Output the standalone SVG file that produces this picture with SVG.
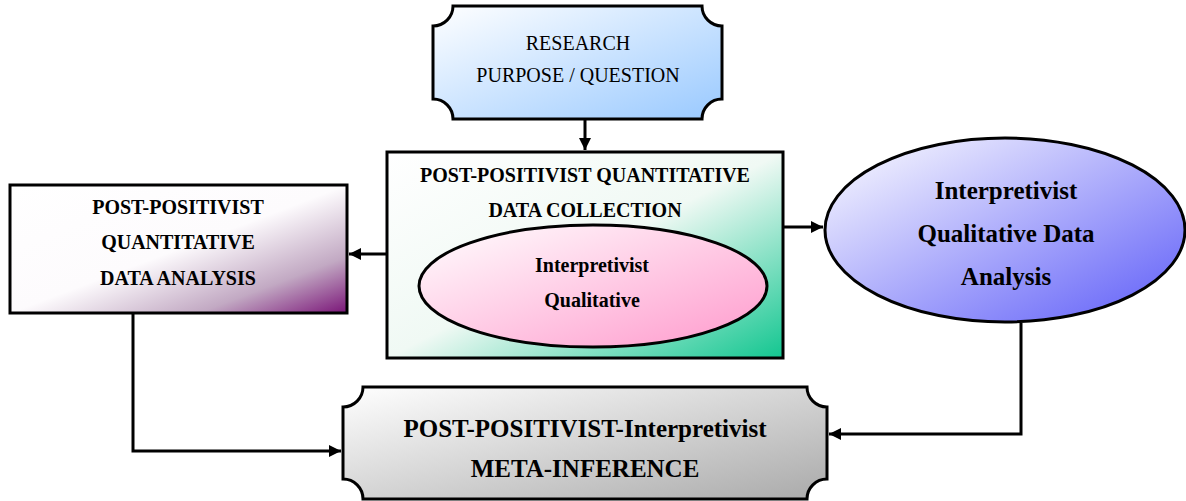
<svg xmlns="http://www.w3.org/2000/svg" width="1186" height="501" viewBox="0 0 1186 501">
<style>
.sh{stroke:#000;stroke-width:3}
.t{font-family:"Liberation Serif","Times New Roman",serif;fill:#000;text-anchor:middle}
.b{font-weight:bold}
.c{fill:none;stroke:#000;stroke-width:3}
</style>
<defs>
<linearGradient id="gBlue" x1="0" y1="0" x2="1" y2="1"><stop offset="0" stop-color="#ffffff"/><stop offset="1" stop-color="#99c9ff"/></linearGradient>
<linearGradient id="gPurple" x1="0" y1="0" x2="1" y2="1"><stop offset="0" stop-color="#ffffff"/><stop offset="0.5" stop-color="#fdfbfd"/><stop offset="0.78" stop-color="#c2a9c3"/><stop offset="1" stop-color="#7a1578"/></linearGradient>
<linearGradient id="gGreen" x1="0" y1="0" x2="1" y2="1"><stop offset="0" stop-color="#ffffff"/><stop offset="0.5" stop-color="#f0f9f4"/><stop offset="1" stop-color="#12c690"/></linearGradient>
<linearGradient id="gPink" x1="0" y1="0" x2="1" y2="1"><stop offset="0" stop-color="#ffffff"/><stop offset="1" stop-color="#ff99cc"/></linearGradient>
<linearGradient id="gViolet" x1="0" y1="0" x2="1" y2="1"><stop offset="0" stop-color="#ffffff"/><stop offset="1" stop-color="#5d5cf8"/></linearGradient>
<linearGradient id="gGray" x1="0" y1="0" x2="1" y2="1"><stop offset="0" stop-color="#ffffff"/><stop offset="1" stop-color="#aaaaaa"/></linearGradient>
<marker id="arr" viewBox="0 0 10 10" refX="10" refY="5" markerWidth="4.5" markerHeight="4" orient="auto" markerUnits="strokeWidth"><path d="M0,0 L10,5 L0,10 Z" fill="#000"/></marker>
</defs>
<g id="connectors">
<path class="c" d="M585,120 V150" marker-end="url(#arr)"/>
<path class="c" d="M387,254 H349" marker-end="url(#arr)"/>
<path class="c" d="M783,227 H823" marker-end="url(#arr)"/>
<path class="c" d="M133,313 V451 H341" marker-end="url(#arr)"/>
<path class="c" d="M1021,323 V434 H829" marker-end="url(#arr)"/>
</g>
<g id="research">
<path class="sh" fill="url(#gBlue)" d="M453,6 H702 A20,20 0 0 0 722,26 V99 A20,20 0 0 0 702,119 H453 A20,20 0 0 0 433,99 V26 A20,20 0 0 0 453,6 Z"/>
<text class="t" font-size="20" x="578" y="50">RESEARCH</text>
<text class="t" font-size="20" x="578" y="82">PURPOSE / QUESTION</text>
</g>
<g id="collection">
<rect class="sh" fill="url(#gGreen)" x="387" y="152" width="396" height="206"/>
<text class="t b" font-size="20" x="585" y="182">POST-POSITIVIST QUANTITATIVE</text>
<text class="t b" font-size="20" x="585" y="217">DATA COLLECTION</text>
</g>
<g id="inner">
<ellipse class="sh" fill="url(#gPink)" cx="593" cy="286" rx="174" ry="61"/>
<text class="t b" font-size="20" x="592" y="272">Interpretivist</text>
<text class="t b" font-size="20" x="592" y="307">Qualitative</text>
</g>
<g id="quant">
<rect class="sh" fill="url(#gPurple)" x="10" y="185" width="337" height="128"/>
<text class="t b" font-size="20" x="178" y="214">POST-POSITIVIST</text>
<text class="t b" font-size="20" x="178" y="249">QUANTITATIVE</text>
<text class="t b" font-size="20" x="178" y="285">DATA ANALYSIS</text>
</g>
<g id="qual">
<ellipse class="sh" fill="url(#gViolet)" cx="1005" cy="230" rx="180" ry="92"/>
<text class="t b" font-size="25" x="1006" y="199">Interpretivist</text>
<text class="t b" font-size="25" x="1006" y="242">Qualitative Data</text>
<text class="t b" font-size="25" x="1006" y="285">Analysis</text>
</g>
<g id="meta">
<path class="sh" fill="url(#gGray)" d="M363,387 H807 A20,20 0 0 0 827,407 V479 A20,20 0 0 0 807,499 H363 A20,20 0 0 0 343,479 V407 A20,20 0 0 0 363,387 Z"/>
<text class="t b" font-size="25" x="585" y="437">POST-POSITIVIST-Interpretivist</text>
<text class="t b" font-size="25" x="585" y="477">META-INFERENCE</text>
</g>
</svg>
